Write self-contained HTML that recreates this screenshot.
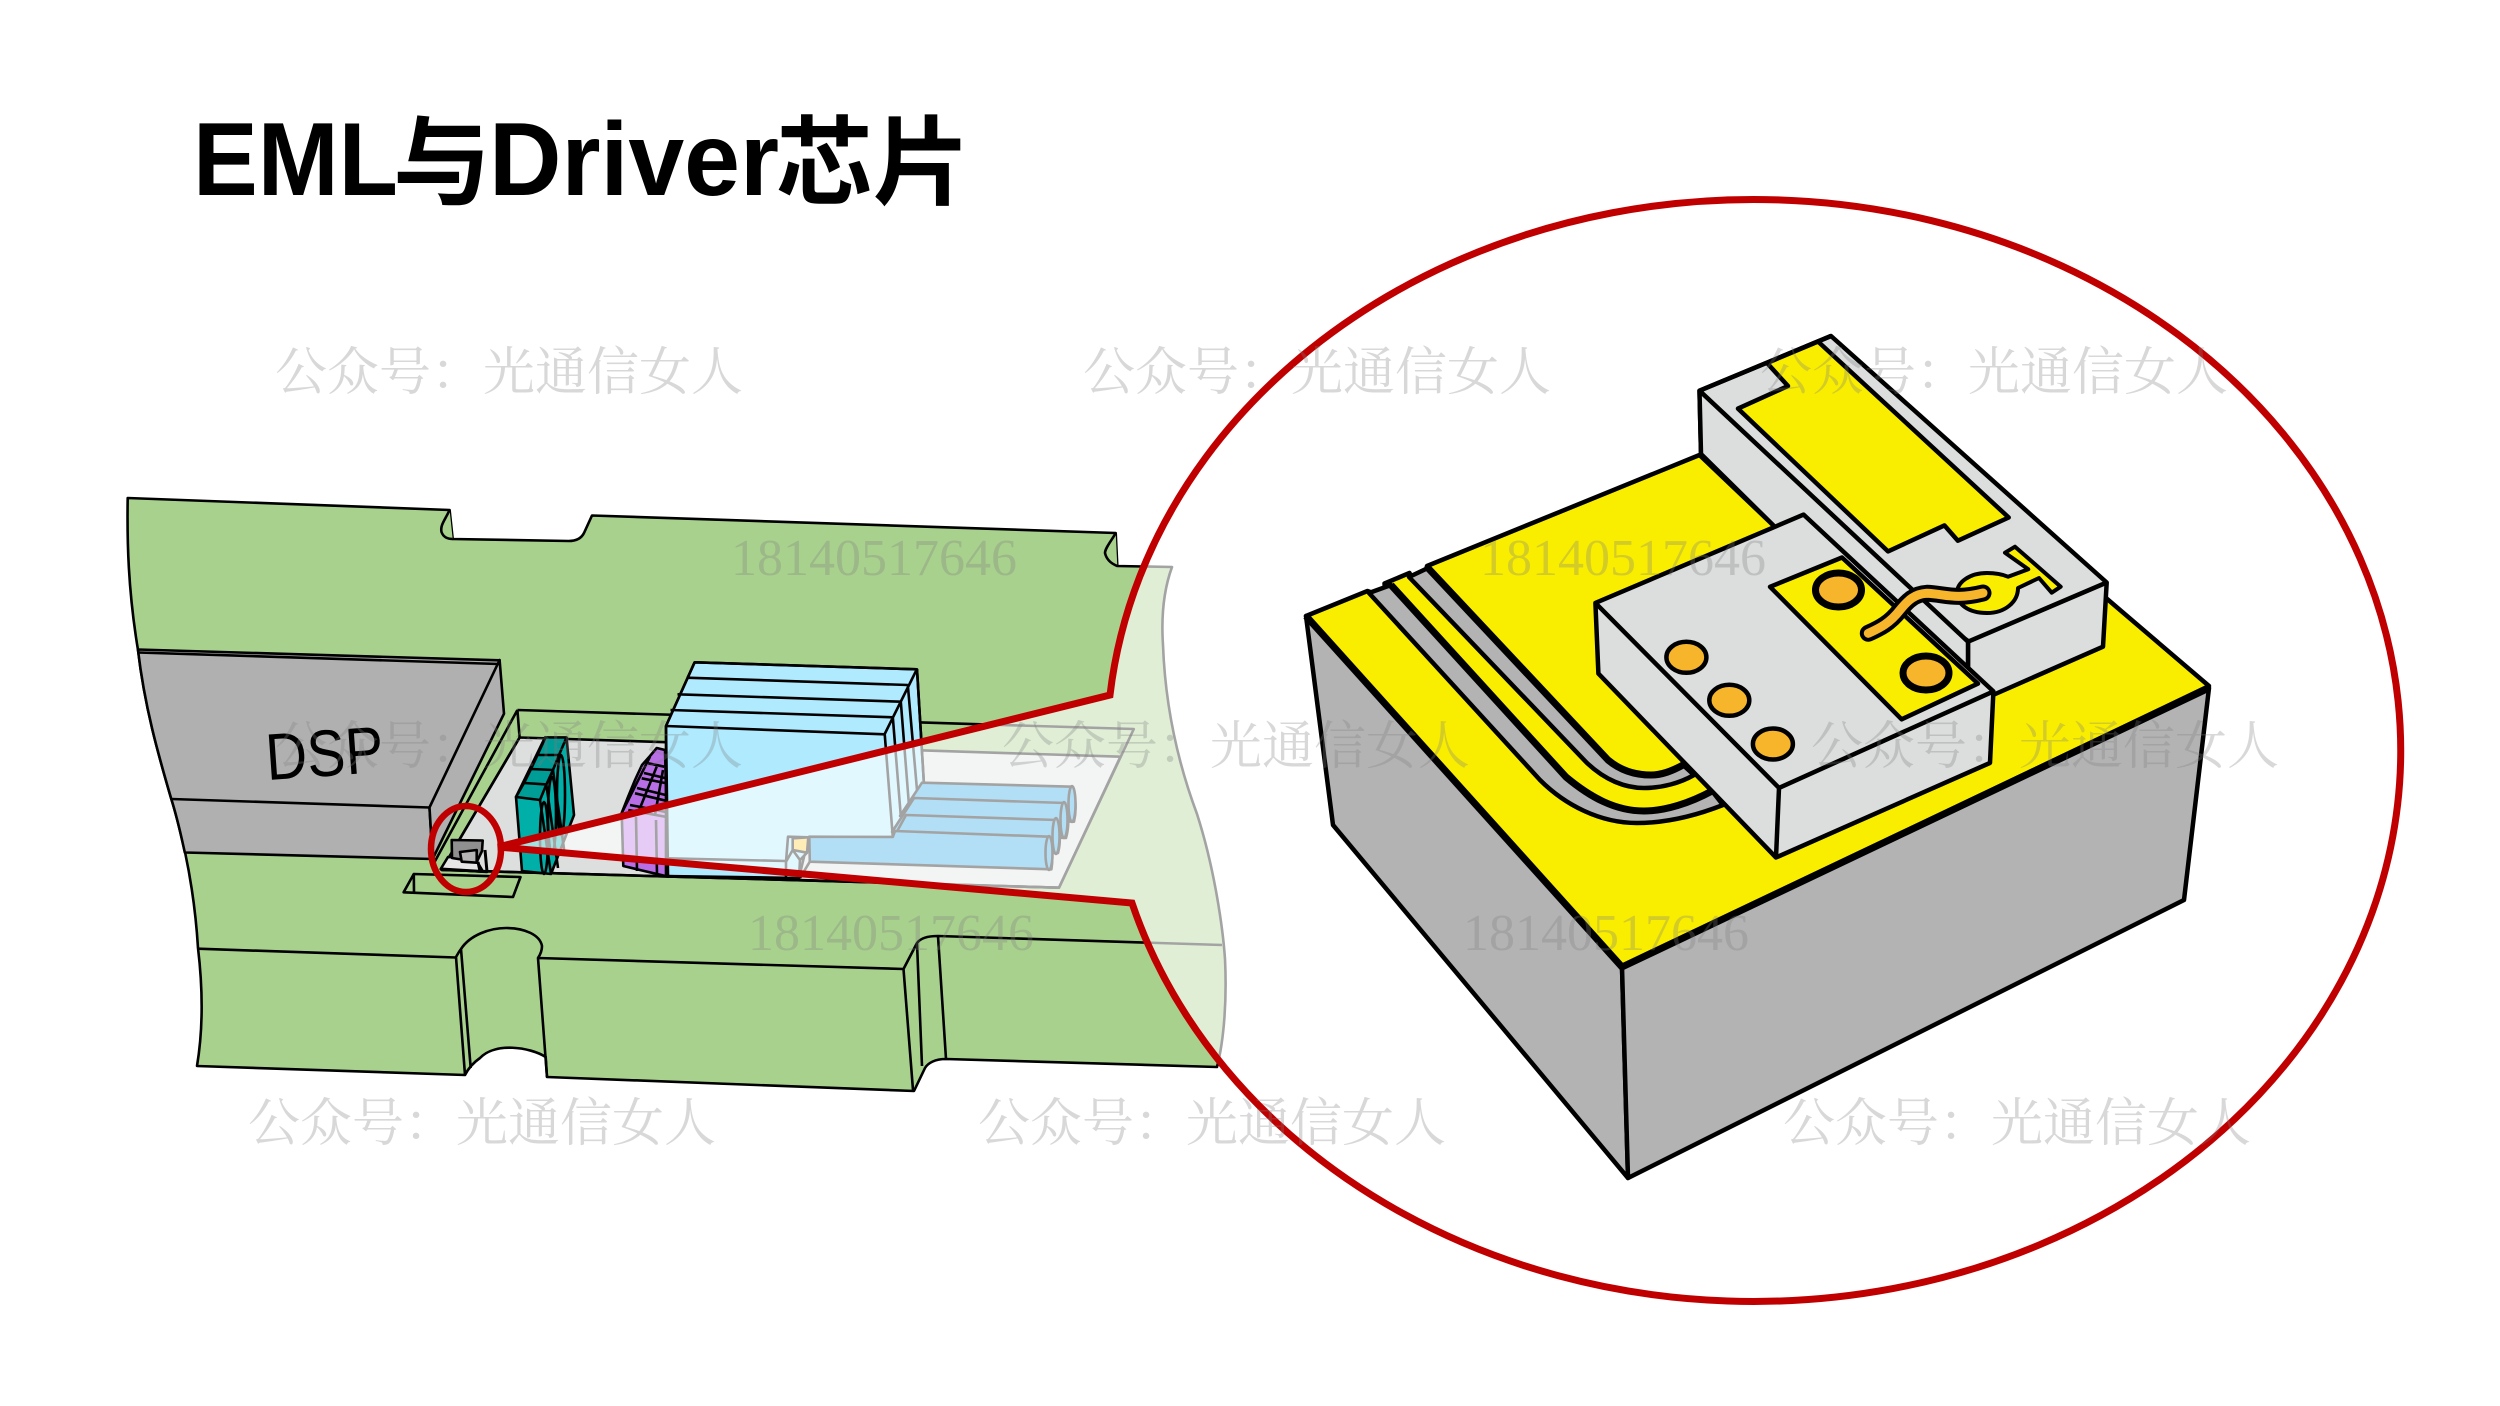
<!DOCTYPE html>
<html><head><meta charset="utf-8"><style>html,body{margin:0;padding:0;background:#fff}svg{display:block}</style></head>
<body>
<svg xmlns="http://www.w3.org/2000/svg" width="2500" height="1406" viewBox="0 0 2500 1406">
<rect width="2500" height="1406" fill="#fff"/>
<g stroke="#000" stroke-width="2.6" stroke-linejoin="round" fill="none">
<!-- board -->
<path fill="#A9D18E" d="M127.7,498 L449.6,510 L452.7,539 L568.7,541 Q580,541 584,533 L592,515.5 L1115.7,533 L1117.3,566 L1172,567 Q1160,600 1163,645 C1165,700 1175,755 1197,814 C1215,870 1223,930 1225,959 C1227,1000 1224,1040 1217,1067 L946,1059 C935,1059 928,1063 925,1068 L914,1091 L547,1077 L545.7,1057 C530,1047 495,1042 480,1058 Q470,1065 465,1075 L197,1066 C203,1030 203,990 198,948 C196,915 192,885 185,852 C182,840 178,820 171,798 C160,760 145,710 138,650 C128,590 127,540 127.7,498Z"/>
<path fill="#A9D18E" d="M449.6,510 C445,520 440,525 441.5,532 Q444,539 452.7,539"/>
<path fill="#A9D18E" d="M1115.7,533 C1112,540 1105,548 1105,553 Q1107,562 1117.3,566"/>
<!-- lower front lines -->
<path d="M198,948.7 L456,957.5 M456,957 L465,1075 M461,949 L470.7,1068 M456,957 Q460,950 461,949 C470,935 490,928 506,928 C525,928 540,935 542,946 Q542,952 538,958 L547,1077 M538,958 L903.5,969 L913,1090 M903.5,969 L917,943 Q922,936 938,936 L1222,945 M917,943 L922,1066 M938,936 L946,1059"/>
<!-- small recess -->
<path d="M413.8,874 L520.5,877 L513,897 L403.6,892.3 Z M413.8,874 L414,892"/>
<!-- DSP -->
<path fill="#B0B0B0" d="M138,649.5 L499.6,660.3 L498.7,664 L429.5,807.5 L432.6,859 L184.8,852.5 C182,840 178,820 171,798 C160,760 145,710 138,650Z"/>
<path fill="#B0B0B0" d="M499.6,660 L504,713.7 L432.6,859 L429.5,807.5 Z"/>
<path d="M138,652.5 L498.7,664 M171.4,799 L429.5,807.5"/>
<!-- recess -->
<path fill="#DDDFDF" d="M519.6,737.5 L1120.4,756.7 L1059,887.7 L441.5,870 Z"/>
<path d="M517.4,710 L1133.8,729 L1059,887.7 L441.5,870 M517.4,710 L434,863 M517.4,710 L519.6,737.5 M519.6,737.5 L441.5,870"/>
<!-- teal -->
<path fill="#00B0A8" d="M545,737.5 L566.5,737.5 L574,815 L551,874 L522,871 L516,797 Z"/>
<path fill="#009C96" d="M516,797 L524,783 L546.4,784.4 L540,800 Z M524,783 L531,769 L553,770 L546.4,784.4 Z M531,769 L537.5,755 L559,755 L553,770 Z M537.5,755 L545.5,737.5 L566.5,737.5 L559,755 Z"/>
<path d="M540,800 L551,874 M546.4,785 L558,868 M553,770 L565,856"/>
<ellipse cx="544" cy="838" rx="4" ry="36"/><ellipse cx="552" cy="815" rx="4" ry="38"/><ellipse cx="561" cy="795" rx="4" ry="40"/>
<!-- purple -->
<path fill="#B86FE6" d="M621.7,813 L628,797 L635,780 L642,765 L650,756 L656.7,748 L665,750 L668.3,876.7 L623.3,866 Z"/>
<path d="M628.3,810 L666.7,817 M630,805 L666,812 M635,793.3 L665.7,800.7 M637,788 L665.7,795 M641.7,778.3 L665,783 M644,773 L665,778 M648.3,763.3 L664.3,766.7 M621.7,813 L650,756.7 M638,813 L656.7,766.7 M655,815 L663,770 M636,817 L637,871 M656,820 L657,875"/>
<!-- blue block -->
<path fill="#AFEAFF" d="M694.6,662.3 L917,669.3 L923.8,781.7 L892.8,837 L808.7,837 L799,878 L666,876 L666,726 Z"/>
<path d="M694.6,662.3 L917,669.3 M686.6,677.7 L907.8,685 M677.5,694.3 L900.8,701.7 M670.5,710 L892.8,717.3 M666,726 L884.7,734.3 M694.6,662.3 L666,726 L668,876 M917,669 L884.7,734 L892.8,837 M892.8,717 L900.8,816 M900.8,701.7 L908.8,803 M907.8,685 L917,790 M917,669 L923.8,781.7 M666,858.3 L785.6,861 M666,876 L866,882 L1059,887.7"/>
<!-- cylinders -->
<g fill="#2CA6E3">
<path d="M922,782.7 L1072,786.7 Q1078,804 1074,821.7 L900,816 Z"/><ellipse cx="1072" cy="804" rx="3.5" ry="18"/>
<path d="M914,798 L1065,803 Q1071,820 1066,838 L892,832 Z"/><ellipse cx="1064" cy="820" rx="3.5" ry="18"/>
<path d="M906,815 L1057,820 Q1062,838 1058,853 L888,848 Z"/><ellipse cx="1056" cy="836" rx="3.5" ry="18"/>
<path d="M892.8,837 L895,831 L1049,836.7 Q1054,853 1051.4,869.3 L809.8,861.7 L809.3,836.7 Z"/><ellipse cx="1049" cy="853" rx="3.5" ry="17"/>
</g>
<!-- small cream box -->
<path fill="#AFEAFF" d="M788,836.7 L808.3,837.3 L807,852.7 L800,860 L799,878 L786,878 L786,861.7 Z"/>
<path fill="#FFCD3A" d="M792.7,838.3 L808.3,837.3 L807,852.7 L792.7,850 Z"/>
<path d="M809.8,861.7 L800,878 M786,861.7 L792.7,850 M800,860 L792.7,850"/>
<!-- mini chip -->
<path fill="#E6E6E6" d="M440.7,869 L448,857 L475,858 L483,871.7 Z"/>
<path fill="#8F8F8F" d="M451.7,840 L482.7,840.5 L482,851 L476.7,862 L452,858 Z"/>
<path fill="#B5B5B5" d="M460,852 L476.7,850 L476.7,862.7 L461.7,861.7 Z"/>
<path stroke-width="3" d="M485,850 L487,871.7 L441,869 M478,862 L480,871"/>
</g>
<!-- lens -->
<path d="M498,847 L1110,695 A647,551 0 1 1 1132,903 Z" fill="#fff" fill-opacity=".64" stroke="#C00000" stroke-width="7" stroke-linejoin="miter"/>
<ellipse cx="466" cy="849" rx="35" ry="43" fill="none" stroke="#C00000" stroke-width="6.5"/>
<text x="267" y="776" font-family="'Liberation Sans',sans-serif" font-size="66" textLength="118" lengthAdjust="spacingAndGlyphs" transform="rotate(-4 326 775)" fill="#000">DSP</text>
<!-- big chip -->
<g stroke="#000" stroke-width="4.5" stroke-linejoin="round" fill="none">
<path fill="#B3B3B3" d="M1306,616 L1622,967 L1628,1178 L1333,825 Z"/>
<path fill="#B3B3B3" d="M1622,967 L2209,688 L2184,900 L1628,1178 Z"/>
<path fill="#FAEE00" d="M1306,616 L1367.5,591 L1373,593 L1385,589 L1384.5,583.5 L1409.5,573 L1411.5,577 L1426,570 L1427,566 L1699.5,455 L1773,525 L2106,598 L2209,686 L1622,967 Z" stroke-width="4.5"/>
<path stroke-width="7" d="M1306,616 L1622,967 L2209,688"/>
<path fill="#B3B3B3" d="M1369,593 L1540,780 C1565,805 1600,823 1637,823 C1665,823 1695,816 1723,805 L1712,791 C1690,803 1665,811 1644,811 C1615,811 1590,797 1566,777 L1391,585 Z"/>
<path fill="#B3B3B3" d="M1409,577 L1587,763 C1605,780 1625,788 1644,788 C1662,788 1680,783 1694,775 L1683,765 C1672,771 1662,775 1651,775 C1635,775 1620,770 1608,760 L1428,568 Z"/>
<path stroke-width="7" d="M1391,585 L1566,777 C1590,797 1615,811 1644,811 C1665,811 1690,803 1712,791 M1428,568 L1608,760 C1620,770 1635,775 1651,775 C1662,775 1672,771 1683,765"/>
<!-- driver -->
<path fill="#DCDEDE" d="M1699.5,390.7 L1831,336 L2106.7,582.5 L2103,646.7 L1993,695 L1968,668 L1968,641 L1701,454 Z"/>
<path fill="#DCDEDE" d="M1699.5,390.7 L1968,641.7 L1968,668 L1993,695 L1800,560 L1773,525 L1701,454 Z"/>
<path d="M1968,641.7 L2106.7,582.5"/>
<path fill="#FAEE00" d="M1818,341.5 L1767,363 L1788,386 L1738,408.6 L1888,551.4 L1944.4,525.4 L1957.9,540.7 L2008.7,517.5 Z"/>
<path d="M1699.5,390.7 L1831,336"/>
<path fill="#FAEE00" stroke-width="4" d="M2005,552.7 L2015,546.7 L2060.7,586.7 L2051.7,592.7 L2039,578 L2018,588 C2018,602 2005,613 1987,613 C1968,613 1957,604 1957,593 C1957,582 1970,573 1987,573 C1996,573 2004,575 2008,576.7 L2028.3,569.3 Z"/>
<!-- laser -->
<path fill="#DCDEDE" d="M1595.4,602.9 L1803.6,514.6 L1993.4,691.4 L1990,762.9 L1776,857.5 L1598.4,673.6 Z"/>
<path d="M1595.4,602.9 L1779,787.9 L1993.4,691.4 M1779,787.9 L1776,857.5"/>
<path fill="#FAEE00" d="M1770,586.8 L1842,557.5 L1978,683.6 L1901.6,719.3 Z"/>
<g fill="#F7B52C">
<ellipse cx="1838.5" cy="590" rx="23" ry="17" stroke-width="7"/>
<ellipse cx="1926" cy="673" rx="23" ry="17" stroke-width="7"/>
<ellipse cx="1686.4" cy="657.3" rx="20" ry="15.5"/>
<ellipse cx="1729.3" cy="700.3" rx="20" ry="15.5"/>
<ellipse cx="1772.9" cy="744" rx="20" ry="15.5"/>
</g>
<path stroke-width="17" stroke-linecap="round" d="M1868.3,633.3 C1880,628 1890,623 1900,610 C1908,600 1915,594 1926.7,593.3 C1945,594 1955,600 1983,593"/>
<path stroke="#F7B52C" stroke-width="9" stroke-linecap="round" d="M1868.3,633.3 C1880,628 1890,623 1900,610 C1908,600 1915,594 1926.7,593.3 C1945,594 1955,600 1983,593"/>
</g>
<!-- title -->
<g font-weight="bold" fill="#000" font-family="'Liberation Sans','Noto Sans CJK SC',sans-serif">
<text x="193" y="195" font-size="104" textLength="205" lengthAdjust="spacingAndGlyphs">EML</text>
<text x="393" y="197" font-size="98">与</text>
<text x="489" y="195" font-size="104" textLength="290" lengthAdjust="spacingAndGlyphs">Driver</text>
<text x="776" y="197" font-size="97">芯片</text>
</g>
<!-- watermarks -->
<g font-family="'Liberation Serif','Noto Serif CJK SC',serif" font-size="52" fill="#7f7f7f" fill-opacity=".3">
<text x="275" y="390">公众号：光通信女人</text>
<text x="1083" y="390">公众号：光通信女人</text>
<text x="1760" y="390">公众号：光通信女人</text>
<text x="275" y="764">公众号：光通信女人</text>
<text x="1002" y="764">公众号：光通信女人</text>
<text x="1811" y="764">公众号：光通信女人</text>
<text x="248" y="1141">公众号：光通信女人</text>
<text x="978" y="1141">公众号：光通信女人</text>
<text x="1783" y="1141">公众号：光通信女人</text>
<text x="731" y="575">18140517646</text>
<text x="1480" y="575">18140517646</text>
<text x="748" y="950">18140517646</text>
<text x="1463" y="950">18140517646</text>
</g>
</svg>
</body></html>
